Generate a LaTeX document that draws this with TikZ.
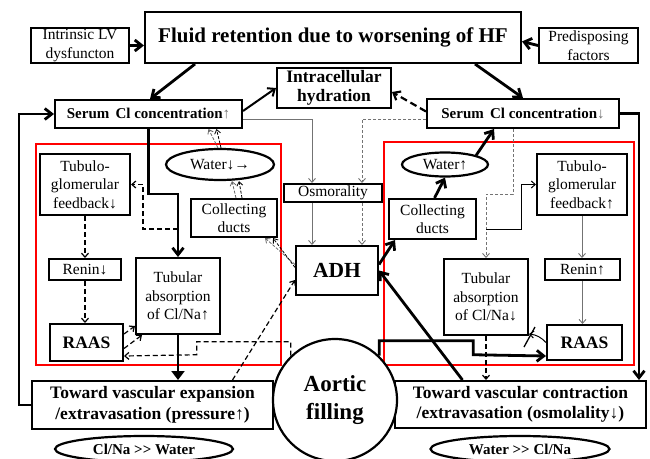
\documentclass[tikz,border=0pt]{standalone}
\usepackage{fontspec}
\setmainfont{Liberation Serif}
\usetikzlibrary{arrows.meta,shapes.geometric,calc}

\begin{document}
\begin{tikzpicture}[x=1pt,y=-1pt,
  rm/.style={font=\fontsize{15.5}{18.5}\selectfont},
  box/.style={draw,line width=2pt,fill=white,inner sep=0pt,align=center,rm},
  oval/.style={draw,ellipse,line width=2.2pt,fill=white,inner sep=0pt,align=center,rm},
  sz/.style 2 args={minimum width=#1pt,minimum height=#2pt},
  redbox/.style={draw=red,line width=1.8pt},
  heavy/.style={line width=2.8pt,-{Straight Barb[length=7pt,width=11pt]}},
  heavytri/.style={line width=2.8pt,-{Triangle[length=9pt,width=13pt]}},
  dsh/.style={line width=1.2pt,dash pattern=on 5pt off 3pt,-{Straight Barb[length=4pt,width=7pt]}},
  dshbig/.style={line width=2.2pt,dash pattern=on 7pt off 4pt,-{Straight Barb[length=6pt,width=10pt]}},
  grey/.style={draw=black!55,line width=0.9pt,-{Straight Barb[length=4pt,width=7pt]}},
  greydot/.style={draw=black!55,line width=0.9pt,dash pattern=on 3pt off 2pt,-{Straight Barb[length=4pt,width=7pt]}},
  thin/.style={line width=1pt,-{Straight Barb[length=4pt,width=7pt]}},
  pair/.style={line width=0.8pt,dash pattern=on 3pt off 1.5pt,-{Straight Barb[length=4pt,width=6pt]}},
]
\useasboundingbox (0,0) rectangle (650,458);

% regions of the kidney response
\draw[redbox] (36,144) rectangle (281,365);
\draw[redbox] (384,142) rectangle (634,365);

% top row
\node[box,sz={376}{51},font=\bfseries\fontsize{21}{24}\selectfont] (title) at (333,37.5) {Fluid retention due to worsening of HF};
\node[box,sz={98}{35}] (lv) at (80,45.5) {Intrinsic LV\\dysfuncton};
\node[box,sz={99}{35}] (pre) at (588.5,45.5) {Predisposing\\factors};
\node[box,sz={114}{40},font=\bfseries\fontsize{17.5}{19.5}\selectfont] (icf) at (334,88) {Intracellular\\hydration};
\node[box,sz={187}{28},font=\bfseries\fontsize{15}{18}\selectfont] (clup) at (148.5,114) {Serum\, Cl concentration{\mdseries\color{black!55}↑}};
\node[box,sz={192}{29},font=\bfseries\fontsize{15}{18}\selectfont] (cldn) at (523,113.5) {Serum\, Cl concentration{\mdseries\color{black!55}↓}};

% left kidney block
\node[box,sz={90}{61}] (tgfL) at (85,184.5) {Tubulo-\\glomerular\\feedback↓};
\node[oval,minimum width=108pt,minimum height=31pt] (waterL) at (220,164.5) {Water↓→};
\node[box,sz={86}{38}] (cdL) at (234,218) {Collecting\\ducts};
\node[box,sz={72}{21}] (reninL) at (85,269.5) {Renin↓};
\node[box,sz={84}{76}] (tabL) at (178,296) {Tubular\\absorption\\of Cl/Na↑};
\node[box,sz={73}{37},font=\bfseries\fontsize{17.5}{20}\selectfont] (raasL) at (86.5,342.5) {RAAS};

% centre
\node[box,sz={98}{18}] (osmo) at (333,193) {Osmorality};
\node[box,sz={82}{49},font=\bfseries\fontsize{21.5}{24}\selectfont] (adh) at (337,270.5) {ADH};

% right kidney block
\node[oval,minimum width=86pt,minimum height=24pt] (waterR) at (445,164.5) {Water↑};
\node[box,sz={87}{40}] (cdR) at (432.5,219) {Collecting\\ducts};
\node[box,sz={90}{61}] (tgfR) at (582,184.5) {Tubulo-\\glomerular\\feedback↑};
\node[box,sz={75}{21}] (reninR) at (582.5,269.5) {Renin↑};
\node[box,sz={84}{76}] (tabR) at (486,297) {Tubular\\absorption\\of Cl/Na↓};
\node[box,sz={75}{35},font=\bfseries\fontsize{17.5}{20}\selectfont] (raasR) at (584.5,342.5) {RAAS};

% bottom row
\node[box,sz={241}{48},font=\bfseries\fontsize{17.5}{20.5}\selectfont] (expand) at (152.5,405) {Toward vascular expansion\\/extravasation (pressure{\mdseries↑})};
\node[box,sz={251}{47},font=\bfseries\fontsize{17.5}{20.5}\selectfont] (contract) at (520.5,404.5) {Toward vascular contraction\\/extravasation (osmolality{\mdseries↓})};
\node[oval,minimum width=178pt,minimum height=26pt,font=\bfseries\fontsize{15}{18}\selectfont] (ellL) at (144,449) {Cl/Na >{}> Water};
\node[oval,minimum width=179pt,minimum height=26pt,font=\bfseries\fontsize{15}{18}\selectfont] (ellR) at (520,449) {Water >{}> Cl/Na};
\node[oval,minimum width=124pt,minimum height=122pt,font=\bfseries\fontsize{23}{28}\selectfont] (aortic) at (335,400) {Aortic\\filling};

% branch points on the tubular pathways
\coordinate (brL) at (178,229);
\coordinate (brR) at (486,229);

% top-level drivers
\draw[heavy] (lv.east) -- (lv.east -| title.west);
\draw[heavy] (pre.west) -- ([yshift=4pt]pre.west -| title.east);
\draw[heavy] ([xshift=-138pt]title.south) -- ([xshift=1.5pt]clup.north);
\draw[heavy] ([xshift=142pt]title.south) -- (cldn.north);
\draw[line width=2pt,-{Straight Barb[length=6pt,width=10pt]}] ([yshift=3pt]clup.east) -- (icf.west);
\draw[dshbig] ([yshift=2pt]cldn.west) -- ([yshift=-4pt]icf.east);

% outer feedback loops
\draw[heavy] (expand.west) -- ++(-12,0) |- (clup.west);
\draw[heavy] (cldn.east) -| ([xshift=-8pt]contract.north east);

% left block connectors
\draw[heavy] (clup.south) -- ++(0,65) -| (tabL.north);
\draw[dsh] (brL) -- ++(-35,0) |- (tgfL.east);
\draw[dsh] (tgfL.south) -- (reninL.north);
\draw[dsh] (reninL.south) -- (reninL.south |- raasL.north);
\draw[dsh] ([yshift=8.5pt]raasL.east) -- ([yshift=9pt]tabL.south west);
\draw[dsh] ([yshift=-6pt]raasL.east) -- ([xshift=7pt]tabL.south west);
\draw[dsh] (aortic.135) -- ++(0,-14) -- ++(-94,0) -- ++(0,13) -- ([yshift=-13.5pt]raasL.east);
\draw[heavytri] (tabL.south) -- (tabL.south |- expand.north);
\draw[dsh] ([xshift=80pt]expand.north) -- ([yshift=-9.5pt]adh.west);

% water handling on the left
\draw[pair,draw=black!60] ([yshift=6pt]adh.west) -- ([xshift=-13pt]cdL.south east);
\draw[pair] ([yshift=3pt]adh.west) -- ([xshift=-5pt]cdL.south east);
\draw[pair,draw=black!60] ([xshift=2pt]cdL.north) -- ([xshift=12pt]waterL.south);
\draw[pair] ([xshift=8pt]cdL.north) -- ([xshift=19pt]waterL.south);
\draw[pair,draw=black!60] ([xshift=-2pt]waterL.north) -- ([xshift=60pt]clup.south);
\draw[pair] ([xshift=1pt]waterL.north) -- ([xshift=68pt]clup.south);

% osmolality sensing
\draw[grey] ([yshift=-5pt]clup.east) -| ([xshift=-21pt]osmo.north);
\draw[grey] ([xshift=-21pt]osmo.south) -- ([xshift=-21pt]osmo.south |- adh.north);
\draw[greydot] ([yshift=-5.5pt]cldn.west) -| ([xshift=29pt]osmo.north);
\draw[greydot] ([xshift=29pt]osmo.south) -- ([xshift=29pt]osmo.south |- adh.north);

% right block connectors
\draw[greydot] ([xshift=-10pt]cldn.south) -- ++(0,65) -| (tabR.north);
\draw[thin] (brR) -- ++(35,0) |- (tgfR.west);
\draw[grey] (tgfR.south) -- (tgfR.south |- reninR.north);
\draw[grey] (reninR.south) -- (reninR.south |- raasR.north);
\draw[thin] (raasR.west) to[bend right=20] ([yshift=2pt]tabR.south east);
\coordinate (xr) at ($(tabR.south east)+(1,1)$);
\draw[line width=1.3pt] ($(xr)+(-6,10)$) -- ($(xr)+(5,-10)$);
\draw[dsh] (tabR.south) -- (tabR.south |- contract.north);
\draw[heavy] (aortic.45) -- ++(0,-15) -- ++(94,0) -- ++(0,14) -- ([yshift=-13.5pt]raasR.west);
\draw[heavy] ([xshift=-58pt]contract.north) -- (adh.east);
\draw[heavy] ([yshift=6pt]adh.east) -- ([xshift=7pt]cdR.south west);
\draw[heavy] ([xshift=2pt]cdR.north) -- (waterR.south);
\draw[heavy] (waterR.north east) -- ([xshift=-29pt]cldn.south);
\end{tikzpicture}
\end{document}
